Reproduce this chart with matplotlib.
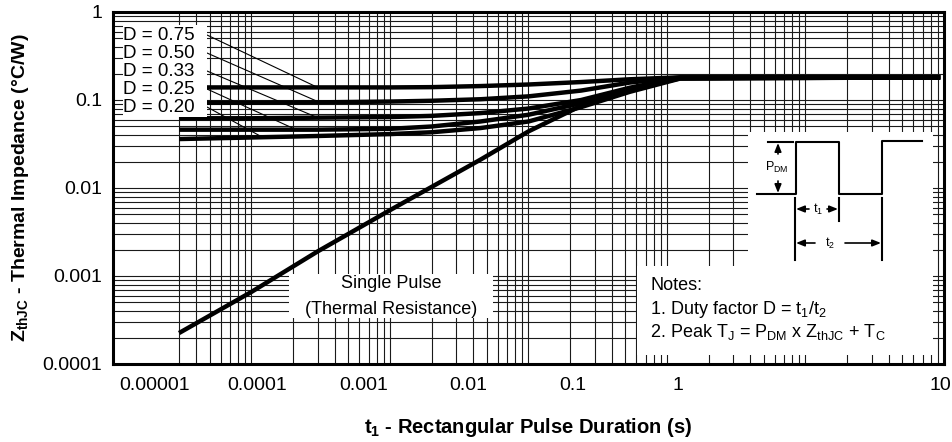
import numpy as np
import matplotlib.pyplot as plt
from matplotlib.patches import Rectangle

plt.rcParams['font.family'] = ['Liberation Sans', 'DejaVu Sans']
plt.rcParams['mathtext.fontset'] = 'custom'
plt.rcParams['mathtext.rm'] = 'Liberation Sans'
plt.rcParams['mathtext.it'] = 'Liberation Sans:italic'
plt.rcParams['mathtext.bf'] = 'Liberation Sans:bold'

# pulse duration (s) and thermal impedance (C/W)
t = [3e-5, 1e-4, 3e-4, 1e-3, 2e-3, 4.5e-3, 0.01, 0.024, 0.054, 0.124, 9.4]
z_d075 = [0.139, 0.139, 0.139, 0.139, 0.140, 0.144, 0.150, 0.160, 0.172, 0.181, 0.181]
z_d050 = [0.093, 0.093, 0.094, 0.096, 0.098, 0.102, 0.110, 0.128, 0.158, 0.180, 0.181]
z_d033 = [0.062, 0.062, 0.063, 0.064, 0.066, 0.071, 0.080, 0.100, 0.138, 0.178, 0.181]
z_d025 = [0.046, 0.046, 0.046, 0.047, 0.050, 0.057, 0.068, 0.092, 0.132, 0.176, 0.181]
z_d020 = [0.036, 0.0375, 0.039, 0.041, 0.043, 0.048, 0.057, 0.083, 0.124, 0.175, 0.181]
z_single = [2.25e-4, 6.6e-4, 1.9e-3, 5.6e-3, 0.0103, 0.021, 0.044, 0.086, 0.133, 0.178, 0.181]

duty_labels = ['D = 0.75', 'D = 0.50', 'D = 0.33', 'D = 0.25', 'D = 0.20']
leader_t = [3.0e-4, 3.1e-4, 3.0e-4, 2.1e-4, 1.2e-4]

# the printed x labels do not sit on the grid decades in the original
xtick_pos = [2.0e-5, 1.1e-4, 6.5e-4, 3.66e-3, 0.021, 0.12, 9.35]
xtick_labels = ['0.00001', '0.0001', '0.001', '0.01', '0.1', '1', '10']
yticks = [1e-4, 1e-3, 1e-2, 1e-1, 1]
ytick_labels = ['0.0001', '0.001', '0.01', '0.1', '1']

W, H = 953, 442
L, R, T, B = 113, 944, 12, 364
fig = plt.figure(figsize=(W / 100, H / 100), dpi=100)
ax = fig.add_axes([L / W, 1 - B / H, (R - L) / W, (B - T) / H])


def af(px, py):
    # pixel position -> axes fraction
    return ((px - L) / (R - L), (B - py) / (B - T))


def box(x0, y0, x1, y1):
    a = af(x0, y1)
    b = af(x1, y0)
    ax.add_patch(Rectangle(a, b[0] - a[0], b[1] - a[1], transform=ax.transAxes,
                           facecolor='white', edgecolor='none', zorder=3))


ax.set_xscale('log')
ax.set_yscale('log')
ax.set_xlim(1e-5, 10)
ax.set_ylim(1e-4, 1)
ax.grid(True, which='minor', color='#1a1a1a', lw=0.8)
ax.grid(True, which='major', axis='y', color='#1a1a1a', lw=0.8)
# decade lines on x, since the labelled ticks are offset
for d in [1e-4, 1e-3, 1e-2, 1e-1, 1]:
    ax.axvline(d, color='#1a1a1a', lw=0.8, zorder=0.9)
ax.set_xticks(xtick_pos, xtick_labels)
ax.set_yticks(yticks, ytick_labels)
ax.tick_params(which='both', length=0, labelsize=14)
ax.tick_params(axis='x', pad=9)
ax.tick_params(axis='y', pad=8)
for s in ax.spines.values():
    s.set_linewidth(2.2)

curves = [z_d075, z_d050, z_d033, z_d025, z_d020, z_single]
for z in curves:
    ax.plot(t, z, color='black', lw=3.2, solid_capstyle='butt', zorder=2.5)

# duty factor labels and leaders
box(123, 25, 207, 117)
label_y = [35, 53, 71, 89, 107]
for lab, ly, lt, z in zip(duty_labels, label_y, leader_t, curves[:5]):
    zt = 10 ** np.interp(np.log10(lt), np.log10(t), np.log10(z))
    ax.annotate('', xy=(lt, zt), xycoords='data', xytext=af(207, ly),
                textcoords='axes fraction',
                arrowprops=dict(arrowstyle='-', color='black', lw=0.8,
                                shrinkA=0, shrinkB=0), zorder=2.4)
    ax.text(*af(123, ly), lab, transform=ax.transAxes, ha='left', va='center',
            fontsize=13.5, zorder=4)

# single pulse label
box(289, 274, 493, 318)
ax.text(*af(391, 284), 'Single Pulse', transform=ax.transAxes, ha='center',
        va='center', fontsize=13, zorder=4)
ax.text(*af(391, 309), '(Thermal Resistance)', transform=ax.transAxes,
        ha='center', va='center', fontsize=13, zorder=4)

# notes
box(637, 266, 933, 355)
box(748, 132, 933, 267)
notes = ['Notes:', '1. Duty factor D = t$_1$/t$_2$',
         '2. Peak T$_\\mathrm{J}$ = P$_\\mathrm{DM}$ x Z$_\\mathrm{thJC}$ + T$_\\mathrm{C}$']
for txt, ny in zip(notes, [285, 309, 332]):
    ax.text(*af(650, ny), txt, transform=ax.transAxes, ha='left', va='center',
            fontsize=13, zorder=4)

# pulse diagram inset (drawn in pixel units)
ins = fig.add_axes([748 / W, 1 - 266 / H, 184 / W, 134 / H])
ins.set_xlim(748, 932)
ins.set_ylim(266, 132)
ins.axis('off')
k = dict(color='black', lw=1.5)
ins.plot([757, 796, 796, 839, 839, 882, 882, 922],
         [194, 194, 142, 142, 194, 194, 141, 141], **k)
ins.plot([768, 793], [142, 142], **k)
ins.plot([795, 795], [198, 260], **k)
ins.plot([839, 839], [198, 221], **k)
ins.plot([882, 882], [198, 260], **k)
arr = dict(arrowstyle='-|>,head_length=0.5,head_width=0.2', color='black', lw=1.2,
           shrinkA=0, shrinkB=0)
ins.annotate('', xy=(778, 143), xytext=(778, 154), arrowprops=arr)
ins.annotate('', xy=(778, 193), xytext=(778, 181), arrowprops=arr)
ins.annotate('', xy=(796, 209), xytext=(809, 209), arrowprops=arr)
ins.annotate('', xy=(838, 209), xytext=(827, 209), arrowprops=arr)
ins.annotate('', xy=(796, 243), xytext=(815, 243), arrowprops=arr)
ins.annotate('', xy=(881, 243), xytext=(845, 243), arrowprops=arr)
ins.text(777, 167, 'P$_\\mathrm{DM}$', ha='center', va='center', fontsize=9)
ins.text(818, 209, 't$_1$', ha='center', va='center', fontsize=9)
ins.text(830, 243, 't$_2$', ha='center', va='center', fontsize=9)

ax.set_ylabel('Z$_\\mathbf{thJC}$ - Thermal Impedance (°C/W)', fontsize=14,
              fontweight='bold', labelpad=8)
ax.set_xlabel('t$_\\mathbf{1}$ - Rectangular Pulse Duration (s)', fontsize=14.5,
              fontweight='bold', labelpad=16)

fig.savefig('out.png', dpi=100)
